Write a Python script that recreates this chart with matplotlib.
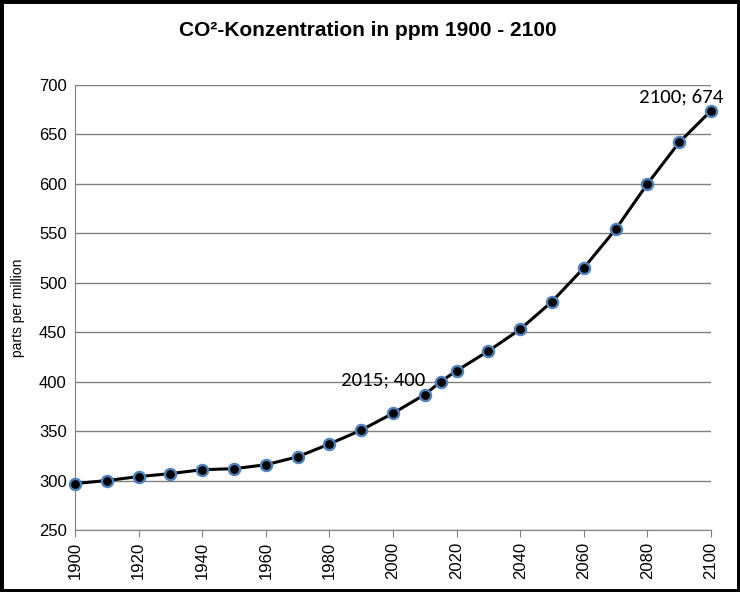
import numpy as np
from matplotlib import pyplot as plt
from matplotlib.patches import Rectangle

years = [1900, 1910, 1920, 1930, 1940, 1950, 1960, 1970, 1980, 1990, 2000,
         2010, 2015, 2020, 2030, 2040, 2050, 2060, 2070, 2080, 2090, 2100]
ppm = [297, 300, 304, 307, 311, 312, 316, 324, 337, 351, 368,
       387, 400, 411, 431, 453, 481, 515, 554, 600, 642, 674]
labels = {2015: "2015; 400", 2100: "2100; 674"}
offsets = {2015: (-11, 1), 2100: (9, 10)}

plt.rcParams['font.family'] = ['Liberation Sans', 'DejaVu Sans']

fig = plt.figure(figsize = (7.4, 5.92), dpi = 100)
ax = fig.add_axes([75 / 740, 1 - 530 / 592, 636 / 740, 445 / 592])

ax.plot(years, ppm, c = "black", lw = 2.2, marker = "o", ms = 8,
        mfc = "black", mec = "#4F81BD", mew = 1.7, zorder = 3, clip_on = False)

ax.set_xlim(1900, 2100); ax.set_ylim(250, 700)
ax.set_xticks(np.arange(1900, 2101, 20)); ax.set_yticks(np.arange(250, 701, 50))
ax.tick_params(axis = "x", labelrotation = 90, labelsize = 12, color = "#808080", length = 5)
ax.tick_params(axis = "y", labelsize = 12, length = 0, pad = 6)
ax.grid(axis = "y", color = "#808080", lw = 1)
ax.set_axisbelow(True)
for s in ["top", "right"]: ax.spines[s].set_visible(False)
for s in ["left", "bottom"]: ax.spines[s].set_color("#808080")
ax.set_ylabel("parts per million", fontsize = 10, labelpad = 10)

for x, t in labels.items():
    y = ppm[years.index(x)]
    ax.annotate(t, (x, y), xytext = offsets[x], textcoords = "offset points", ha = "right",
                va = "center", fontsize = 15, family = ["Carlito", "Open Sans", "DejaVu Sans"])

fig.text(368 / 740, 1 - 30 / 592, "CO²-Konzentration in ppm 1900 - 2100", ha = "center", va = "center",
         fontsize = 15, fontweight = "bold", family = ["Liberation Sans Narrow", "Liberation Sans", "DejaVu Sans"])

fig.patches.append(Rectangle((0, 0), 1, 1, transform = fig.transFigure, fill = False, ec = "black", lw = 5))
plt.savefig("out.png")
